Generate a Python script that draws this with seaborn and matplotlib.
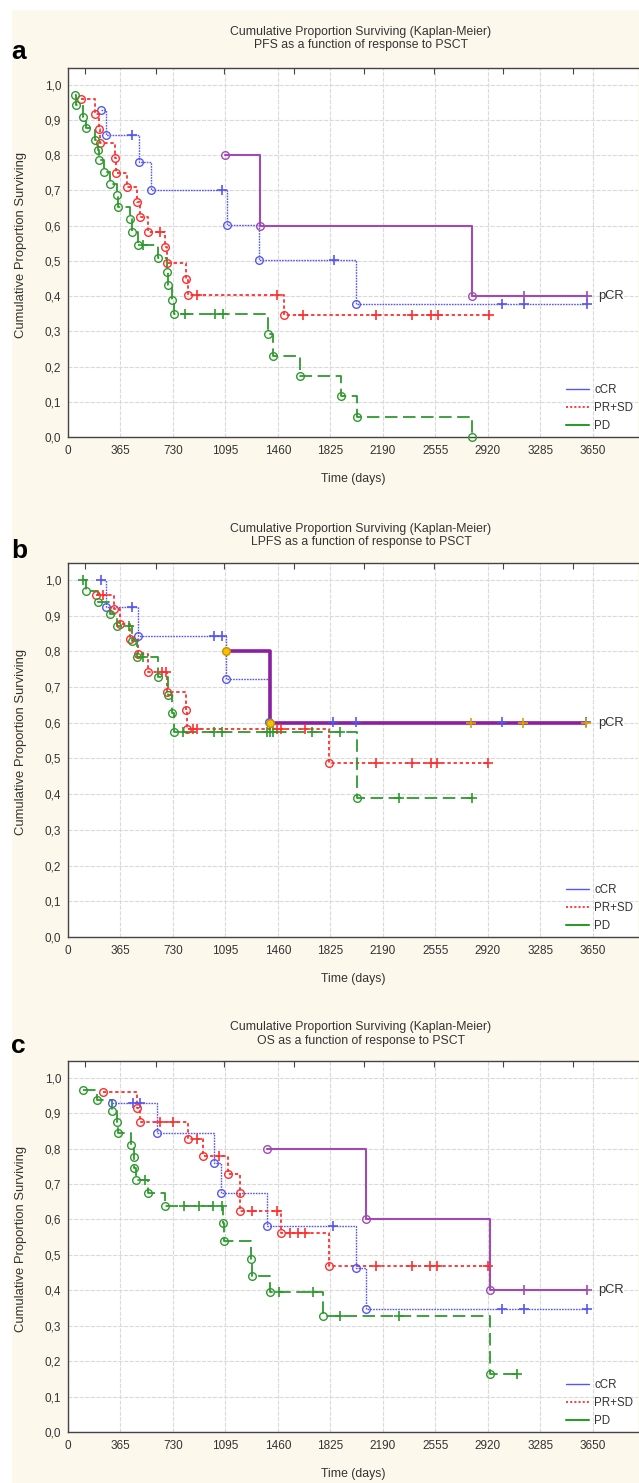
import matplotlib
matplotlib.use("Agg")
import matplotlib.pyplot as plt
from matplotlib.lines import Line2D
from matplotlib.patches import Rectangle
from matplotlib.ticker import FuncFormatter
import seaborn as sns

# ---------------- data ----------------
x_ticks = [0, 365, 730, 1095, 1460, 1825, 2190, 2555, 2920, 3285, 3650]
y_ticks = [0.0, 0.1, 0.2, 0.3, 0.4, 0.5, 0.6, 0.7, 0.8, 0.9, 1.0]
top_ticks = [118, 612, 1085, 1572, 2058, 2545, 3025, 3512]
groups = ["cCR", "PR+SD", "PD", "pCR"]
titles = ["PFS as a function of response to PSCT",
          "LPFS as a function of response to PSCT",
          "OS as a function of response to PSCT"]
letters = ["a", "b", "c"]
pcr_label_y = [0.4, 0.6, 0.4]

# panel a (PFS)   event: 1 = failure (circle), 0 = censored (+)
a_pcr_t = [1095, 1335, 2810, 3170, 3610]
a_pcr_s = [0.8, 0.6, 0.4, 0.4, 0.4]
a_pcr_e = [1, 1, 1, 0, 0]
a_ccr_t = [229, 264, 445, 492, 577, 1071, 1105, 1332, 1850, 2005, 3020, 3172, 3612]
a_ccr_s = [0.929, 0.857, 0.857, 0.779, 0.701, 0.701, 0.601, 0.501, 0.501, 0.376, 0.376, 0.376, 0.376]
a_ccr_e = [1, 1, 0, 1, 1, 0, 1, 1, 0, 1, 0, 0, 0]
a_prsd_t = [88, 188, 216, 223, 327, 331, 408, 482, 501, 559, 640, 677, 691, 820, 833,
            897, 1451, 1502, 1635, 2145, 2391, 2528, 2575, 2926]
a_prsd_s = [0.958, 0.917, 0.875, 0.833, 0.792, 0.750, 0.708, 0.667, 0.625, 0.583, 0.583,
            0.538, 0.494, 0.449, 0.404, 0.404, 0.404, 0.346, 0.346, 0.346, 0.346, 0.346,
            0.346, 0.346]
a_prsd_e = [1, 1, 1, 1, 1, 1, 1, 1, 1, 1, 0, 1, 1, 1, 1, 0, 0, 1, 0, 0, 0, 0, 0, 0]
a_pd_t = [49, 55, 102, 125, 188, 211, 216, 252, 292, 338, 345, 431, 443, 485, 524,
          627, 691, 699, 725, 737, 815, 1021, 1078, 1390, 1426, 1613, 1897, 2013, 2811]
a_pd_s = [0.971, 0.942, 0.909, 0.876, 0.844, 0.813, 0.785, 0.752, 0.719, 0.688, 0.654,
          0.618, 0.582, 0.546, 0.546, 0.509, 0.467, 0.431, 0.390, 0.350, 0.350, 0.350,
          0.350, 0.292, 0.230, 0.173, 0.116, 0.058, 0.0]
a_pd_e = [1, 1, 1, 1, 1, 1, 1, 1, 1, 1, 1, 1, 1, 1, 0, 1, 1, 1, 1, 1, 0, 0, 0,
          1, 1, 1, 1, 1, 1]

# panel b (LPFS)
b_pcr_t = [1097, 1405, 2803, 3164, 3602]
b_pcr_s = [0.8, 0.6, 0.6, 0.6, 0.6]
b_pcr_e = [1, 1, 0, 0, 0]
b_ccr_t = [230, 262, 443, 489, 1016, 1073, 1099, 1400, 1843, 2003, 3018, 3602]
b_ccr_s = [1.0, 0.925, 0.925, 0.843, 0.843, 0.843, 0.722, 0.602, 0.602, 0.602, 0.602, 0.602]
b_ccr_e = [0, 1, 0, 1, 0, 0, 1, 1, 0, 0, 0, 0]
b_prsd_t = [195, 246, 322, 360, 430, 489, 554, 651, 681, 691, 818, 825, 872, 896,
            1451, 1481, 1648, 1817, 2142, 2391, 2524, 2565, 2921]
b_prsd_s = [0.958, 0.958, 0.917, 0.875, 0.833, 0.792, 0.742, 0.742, 0.742, 0.686, 0.635,
            0.583, 0.583, 0.583, 0.583, 0.583, 0.583, 0.486, 0.486, 0.486, 0.486, 0.486,
            0.486]
b_prsd_e = [1, 0, 1, 1, 1, 1, 1, 0, 0, 1, 1, 1, 0, 0, 0, 0, 0, 1, 0, 0, 0, 0, 0]
b_pd_t = [102, 125, 211, 292, 339, 425, 443, 482, 520, 624, 698, 725, 737, 802, 1018,
          1073, 1382, 1405, 1428, 1699, 1891, 2012, 2302, 2809]
b_pd_s = [1.0, 0.970, 0.937, 0.904, 0.870, 0.870, 0.829, 0.783, 0.783, 0.728, 0.677,
          0.626, 0.574, 0.574, 0.574, 0.574, 0.574, 0.574, 0.574, 0.574, 0.574, 0.390,
          0.390, 0.390]
b_pd_e = [0, 1, 1, 1, 1, 0, 1, 1, 0, 1, 1, 1, 1, 0, 0, 0, 0, 0, 0, 0, 0, 1, 0, 0]

# panel c (OS)
c_pcr_t = [1382, 2070, 2935, 3171, 3609]
c_pcr_s = [0.8, 0.6, 0.4, 0.4, 0.4]
c_pcr_e = [1, 1, 1, 0, 0]
c_ccr_t = [308, 450, 501, 617, 1015, 1064, 1382, 1845, 2003, 2070, 3018, 3171, 3609]
c_ccr_s = [0.928, 0.928, 0.928, 0.843, 0.759, 0.675, 0.580, 0.580, 0.464, 0.348, 0.348,
           0.348, 0.348]
c_ccr_e = [1, 0, 0, 1, 1, 1, 1, 0, 1, 1, 0, 0, 0]
c_prsd_t = [241, 477, 501, 640, 733, 836, 895, 936, 1052, 1115, 1194, 1198, 1277, 1451,
            1479, 1544, 1597, 1648, 1817, 2142, 2391, 2517, 2567, 2921]
c_prsd_s = [0.959, 0.914, 0.874, 0.874, 0.874, 0.827, 0.827, 0.778, 0.778, 0.727, 0.675,
            0.623, 0.623, 0.623, 0.561, 0.561, 0.561, 0.561, 0.468, 0.468, 0.468, 0.468,
            0.468, 0.468]
c_prsd_e = [1, 1, 1, 0, 0, 1, 0, 1, 0, 1, 1, 1, 0, 0, 1, 0, 0, 0, 1, 0, 0, 0, 0, 0]
c_pd_t = [107, 199, 304, 343, 350, 436, 459, 462, 473, 535, 559, 675, 807, 913, 1011,
          1069, 1080, 1087, 1270, 1277, 1405, 1470, 1705, 1775, 1891, 2303, 2935, 3123]
c_pd_s = [0.966, 0.937, 0.905, 0.874, 0.843, 0.811, 0.776, 0.746, 0.710, 0.710, 0.674,
          0.638, 0.638, 0.638, 0.638, 0.638, 0.590, 0.539, 0.489, 0.440, 0.394, 0.394,
          0.394, 0.328, 0.328, 0.328, 0.164, 0.164]
c_pd_e = [1, 1, 1, 1, 1, 1, 1, 1, 1, 0, 1, 1, 0, 0, 0, 0, 1, 1, 1, 1, 1, 0, 0, 1, 0, 0, 1, 0]

panels = [
    {"cCR": (a_ccr_t, a_ccr_s, a_ccr_e), "PR+SD": (a_prsd_t, a_prsd_s, a_prsd_e),
     "PD": (a_pd_t, a_pd_s, a_pd_e), "pCR": (a_pcr_t, a_pcr_s, a_pcr_e)},
    {"cCR": (b_ccr_t, b_ccr_s, b_ccr_e), "PR+SD": (b_prsd_t, b_prsd_s, b_prsd_e),
     "PD": (b_pd_t, b_pd_s, b_pd_e), "pCR": (b_pcr_t, b_pcr_s, b_pcr_e)},
    {"cCR": (c_ccr_t, c_ccr_s, c_ccr_e), "PR+SD": (c_prsd_t, c_prsd_s, c_prsd_e),
     "PD": (c_pd_t, c_pd_s, c_pd_e), "pCR": (c_pcr_t, c_pcr_s, c_pcr_e)},
]

# ---------------- styling ----------------
sns.set_style("white")
plt.rcParams["font.family"] = ["Liberation Sans", "DejaVu Sans"]
plt.rcParams["lines.scale_dashes"] = False

styles = {
    "cCR": dict(color="#5656f2", lw=1.0, ls=(0, (1.2, 0.8))),
    "PR+SD": dict(color="#ff2f2f", lw=1.3, ls=(0, (2.4, 2.0))),
    "PD": dict(color="#2e9a2e", lw=1.3, ls=(0, (9, 4))),
    "pCR": dict(color="#a04ab4", lw=1.5, ls="-"),
}
txt = "#333333"
W, H = 639, 1483
# axes box in pixels: (top, bottom)
boxes = [(68, 437), (563, 937), (1061, 1432)]
title_y = [(32, 45), (529, 542), (1027, 1041)]
letter_y = [52, 551, 1046]

fig = plt.figure(figsize=(W / 100, H / 100), dpi=100)
fig.patches.append(Rectangle((12 / W, 0), 1 - 12 / W, 1 - 10 / H, transform=fig.transFigure,
                             facecolor="#fcf8ec", edgecolor="none", zorder=-10))

comma = FuncFormatter(lambda v, _: f"{v:.1f}".replace(".", ","))

for i, data in enumerate(panels):
    top, bot = boxes[i]
    ax = fig.add_axes([68 / W, 1 - bot / H, (638 - 68) / W, (bot - top) / H])
    ax.set_zorder(1)
    ax.set_facecolor("white")

    for g in groups:
        t, s, e = data[g]
        st = styles[g]
        color, lw = st["color"], st["lw"]
        mfc, mec, pc = "none", color, color
        if g == "pCR" and i == 1:
            color, lw = "#8a1fa0", 2.6
            mfc, mec, pc = "#f2c400", "#cf8a00", "#e0a000"
        sns.lineplot(x=t, y=s, ax=ax, color=color, linewidth=lw, linestyle=st["ls"],
                     drawstyle="steps-post", estimator=None, sort=False, zorder=3)
        ev_t = [tt for tt, ee in zip(t, e) if ee == 1]
        ev_s = [ss for ss, ee in zip(s, e) if ee == 1]
        ce_t = [tt for tt, ee in zip(t, e) if ee == 0]
        ce_s = [ss for ss, ee in zip(s, e) if ee == 0]
        ax.plot(ev_t, ev_s, "o", mfc=mfc, mec=mec, ms=5.5, mew=1.0, zorder=4, clip_on=False)
        ax.plot(ce_t, ce_s, "+", color=pc, ms=7, mew=1.2, zorder=4)

    ax.text(3690, pcr_label_y[i], "pCR", va="center", ha="left", fontsize=9.3, color=txt)

    ax.set_xlim(0, 3965)
    ax.set_ylim(0, 1.047)
    ax.set_xticks(x_ticks)
    ax.set_yticks(y_ticks)
    ax.yaxis.set_major_formatter(comma)
    ax.tick_params(axis="both", direction="in", length=4, labelsize=8.5, labelcolor=txt,
                   color="#444444")
    ax.tick_params(axis="x", pad=6)
    ax.tick_params(axis="y", pad=5)
    ax.grid(True, color="#dadada", lw=0.8, ls=(0, (3, 1)))
    ax.set_axisbelow(True)
    for side in ["left", "bottom", "top"]:
        ax.spines[side].set_color("#444444")
        ax.spines[side].set_linewidth(1.0)
    ax.spines["right"].set_visible(False)
    ax.set_xlabel("")
    ax.set_ylabel("")

    sec = ax.secondary_xaxis("top")
    sec.set_xticks(top_ticks)
    sec.set_xticklabels([])
    sec.tick_params(direction="in", length=4, color="#444444")
    sec.spines["top"].set_visible(False)

    handles = [
        Line2D([], [], color=styles["cCR"]["color"], lw=1.0),
        Line2D([], [], color=styles["PR+SD"]["color"], lw=1.3, ls=(0, (1.5, 1.5))),
        Line2D([], [], color=styles["PD"]["color"], lw=1.5),
    ]
    leg = ax.legend(handles, ["cCR", "PR+SD", "PD"], loc="lower right", bbox_to_anchor=(1.0, 0.0),
                    frameon=False, fontsize=8.3, handlelength=2.0, handletextpad=0.5,
                    labelspacing=0.55, borderaxespad=0.4, borderpad=0.0)
    for tx in leg.get_texts():
        tx.set_color(txt)

    fig.text(361 / W, 1 - title_y[i][0] / H, "Cumulative Proportion Surviving (Kaplan-Meier)",
             ha="center", va="center", fontsize=8.8, color=txt)
    fig.text(361 / W, 1 - title_y[i][1] / H, titles[i], ha="center", va="center",
             fontsize=8.8, color=txt)
    fig.text(11 / W, 1 - letter_y[i] / H, letters[i], ha="left", va="center",
             fontsize=19, fontweight="bold", color="black")
    fig.text(353 / W, 1 - (bot + 42) / H, "Time (days)", ha="center", va="center",
             fontsize=8.8, color=txt)
    fig.text(21 / W, 1 - ((top + bot) / 2 - 8) / H, "Cumulative Proportion Surviving",
             ha="center", va="center", rotation=90, fontsize=9.4, color=txt)

fig.savefig("out.png", dpi=100, facecolor="white")
